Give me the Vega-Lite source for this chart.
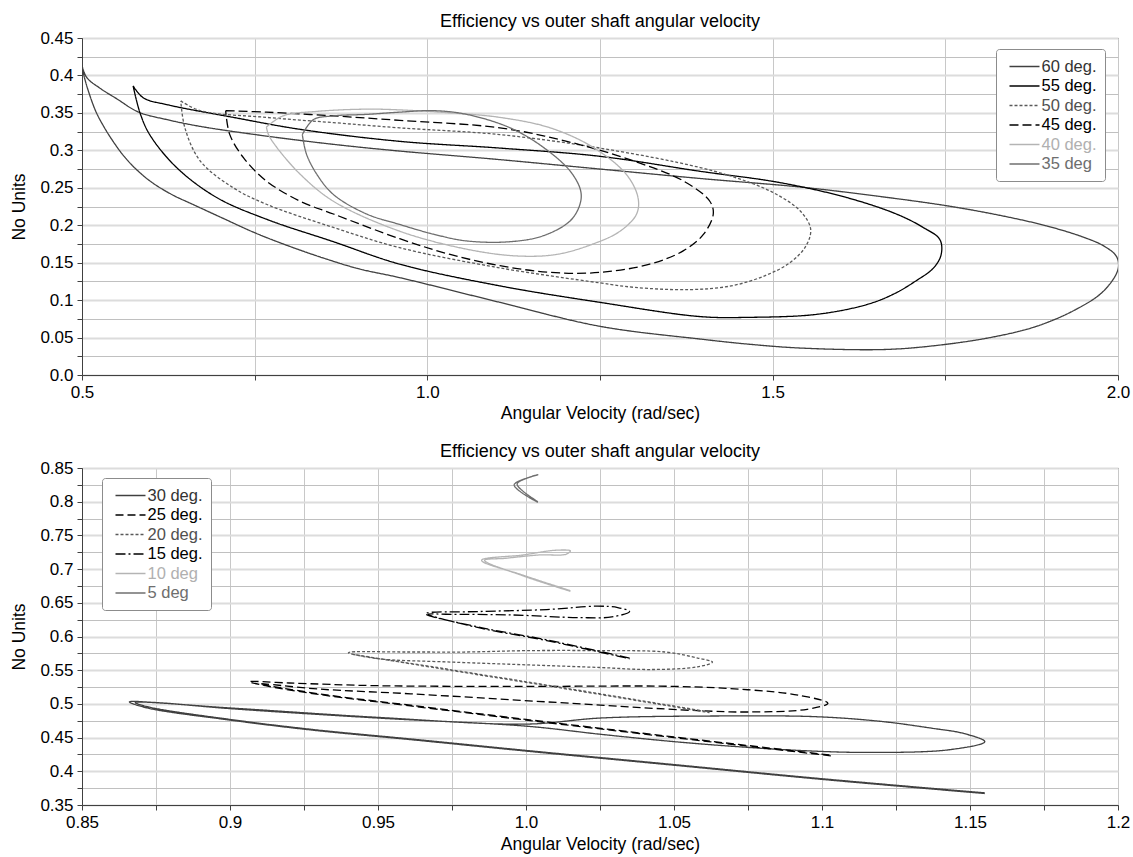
{
  "$schema": "https://vega.github.io/schema/vega-lite/v6.json",
  "background": "white",
  "padding": {"left": 10, "top": 12, "right": 15, "bottom": 4},
  "spacing": 20,
  "config": {
    "font": "Liberation Sans",
    "view": {"stroke": "#404040", "strokeWidth": 1},
    "axis": {"domainColor": "#404040", "tickColor": "#404040", "labelColor": "#000000", "titleColor": "#000000", "labelFontSize": 17, "titleFontSize": 17.5, "titleFontWeight": "normal", "tickSize": 5, "gridColor": "#c8c8c8", "labelFlush": false, "labelOverlap": false},
    "title": {"fontSize": 18, "fontWeight": "normal", "color": "#000000"}
  },
  "datasets": {
    "top": [
      {"s":"60 deg.","i":0,"x":0.5,"y":0.413},{"s":"60 deg.","i":1,"x":0.507,"y":0.397},{"s":"60 deg.","i":2,"x":0.526,"y":0.383},{"s":"60 deg.","i":3,"x":0.55,"y":0.369},{"s":"60 deg.","i":4,"x":0.582,"y":0.351},{"s":"60 deg.","i":5,"x":0.623,"y":0.341},{"s":"60 deg.","i":6,"x":0.671,"y":0.332},{"s":"60 deg.","i":7,"x":0.767,"y":0.319},{"s":"60 deg.","i":8,"x":0.864,"y":0.308},{"s":"60 deg.","i":9,"x":0.96,"y":0.299},{"s":"60 deg.","i":10,"x":1.1,"y":0.288},{"s":"60 deg.","i":11,"x":1.25,"y":0.275},{"s":"60 deg.","i":12,"x":1.4,"y":0.262},{"s":"60 deg.","i":13,"x":1.54,"y":0.251},{"s":"60 deg.","i":14,"x":1.65,"y":0.239},{"s":"60 deg.","i":15,"x":1.752,"y":0.226},{"s":"60 deg.","i":16,"x":1.83,"y":0.213},{"s":"60 deg.","i":17,"x":1.897,"y":0.199},{"s":"60 deg.","i":18,"x":1.95,"y":0.184},{"s":"60 deg.","i":19,"x":1.98,"y":0.172},{"s":"60 deg.","i":20,"x":1.998,"y":0.158},{"s":"60 deg.","i":21,"x":2.0,"y":0.141},{"s":"60 deg.","i":22,"x":1.979,"y":0.112},{"s":"60 deg.","i":23,"x":1.94,"y":0.088},{"s":"60 deg.","i":24,"x":1.882,"y":0.065},{"s":"60 deg.","i":25,"x":1.815,"y":0.05},{"s":"60 deg.","i":26,"x":1.733,"y":0.039},{"s":"60 deg.","i":27,"x":1.66,"y":0.034},{"s":"60 deg.","i":28,"x":1.54,"y":0.036},{"s":"60 deg.","i":29,"x":1.467,"y":0.041},{"s":"60 deg.","i":30,"x":1.395,"y":0.048},{"s":"60 deg.","i":31,"x":1.25,"y":0.065},{"s":"60 deg.","i":32,"x":1.105,"y":0.097},{"s":"60 deg.","i":33,"x":0.96,"y":0.13},{"s":"60 deg.","i":34,"x":0.9,"y":0.142},{"s":"60 deg.","i":35,"x":0.85,"y":0.156},{"s":"60 deg.","i":36,"x":0.8,"y":0.172},{"s":"60 deg.","i":37,"x":0.75,"y":0.19},{"s":"60 deg.","i":38,"x":0.7,"y":0.211},{"s":"60 deg.","i":39,"x":0.66,"y":0.228},{"s":"60 deg.","i":40,"x":0.63,"y":0.241},{"s":"60 deg.","i":41,"x":0.6,"y":0.258},{"s":"60 deg.","i":42,"x":0.577,"y":0.276},{"s":"60 deg.","i":43,"x":0.56,"y":0.293},{"s":"60 deg.","i":44,"x":0.545,"y":0.312},{"s":"60 deg.","i":45,"x":0.532,"y":0.331},{"s":"60 deg.","i":46,"x":0.52,"y":0.352},{"s":"60 deg.","i":47,"x":0.51,"y":0.377},{"s":"60 deg.","i":48,"x":0.503,"y":0.399},{"s":"60 deg.","i":49,"x":0.5,"y":0.413},
      {"s":"55 deg.","i":0,"x":0.574,"y":0.386},{"s":"55 deg.","i":1,"x":0.589,"y":0.37},{"s":"55 deg.","i":2,"x":0.623,"y":0.361},{"s":"55 deg.","i":3,"x":0.719,"y":0.344},{"s":"55 deg.","i":4,"x":0.816,"y":0.328},{"s":"55 deg.","i":5,"x":0.96,"y":0.312},{"s":"55 deg.","i":6,"x":1.105,"y":0.303},{"s":"55 deg.","i":7,"x":1.25,"y":0.292},{"s":"55 deg.","i":8,"x":1.395,"y":0.272},{"s":"55 deg.","i":9,"x":1.51,"y":0.257},{"s":"55 deg.","i":10,"x":1.607,"y":0.237},{"s":"55 deg.","i":11,"x":1.679,"y":0.215},{"s":"55 deg.","i":12,"x":1.718,"y":0.197},{"s":"55 deg.","i":13,"x":1.742,"y":0.181},{"s":"55 deg.","i":14,"x":1.744,"y":0.161},{"s":"55 deg.","i":15,"x":1.733,"y":0.143},{"s":"55 deg.","i":16,"x":1.708,"y":0.126},{"s":"55 deg.","i":17,"x":1.675,"y":0.108},{"s":"55 deg.","i":18,"x":1.636,"y":0.094},{"s":"55 deg.","i":19,"x":1.564,"y":0.081},{"s":"55 deg.","i":20,"x":1.467,"y":0.077},{"s":"55 deg.","i":21,"x":1.395,"y":0.078},{"s":"55 deg.","i":22,"x":1.25,"y":0.097},{"s":"55 deg.","i":23,"x":1.105,"y":0.119},{"s":"55 deg.","i":24,"x":0.96,"y":0.148},{"s":"55 deg.","i":25,"x":0.864,"y":0.178},{"s":"55 deg.","i":26,"x":0.767,"y":0.208},{"s":"55 deg.","i":27,"x":0.695,"y":0.237},{"s":"55 deg.","i":28,"x":0.637,"y":0.277},{"s":"55 deg.","i":29,"x":0.598,"y":0.321},{"s":"55 deg.","i":30,"x":0.584,"y":0.35},{"s":"55 deg.","i":31,"x":0.574,"y":0.386},
      {"s":"50 deg.","i":0,"x":0.643,"y":0.366},{"s":"50 deg.","i":1,"x":0.671,"y":0.353},{"s":"50 deg.","i":2,"x":0.767,"y":0.344},{"s":"50 deg.","i":3,"x":0.864,"y":0.337},{"s":"50 deg.","i":4,"x":0.96,"y":0.33},{"s":"50 deg.","i":5,"x":1.105,"y":0.321},{"s":"50 deg.","i":6,"x":1.25,"y":0.303},{"s":"50 deg.","i":7,"x":1.395,"y":0.277},{"s":"50 deg.","i":8,"x":1.467,"y":0.257},{"s":"50 deg.","i":9,"x":1.506,"y":0.241},{"s":"50 deg.","i":10,"x":1.54,"y":0.219},{"s":"50 deg.","i":11,"x":1.555,"y":0.195},{"s":"50 deg.","i":12,"x":1.548,"y":0.172},{"s":"50 deg.","i":13,"x":1.525,"y":0.15},{"s":"50 deg.","i":14,"x":1.49,"y":0.133},{"s":"50 deg.","i":15,"x":1.44,"y":0.119},{"s":"50 deg.","i":16,"x":1.38,"y":0.114},{"s":"50 deg.","i":17,"x":1.3,"y":0.117},{"s":"50 deg.","i":18,"x":1.25,"y":0.123},{"s":"50 deg.","i":19,"x":1.105,"y":0.143},{"s":"50 deg.","i":20,"x":0.96,"y":0.17},{"s":"50 deg.","i":21,"x":0.864,"y":0.197},{"s":"50 deg.","i":22,"x":0.767,"y":0.228},{"s":"50 deg.","i":23,"x":0.719,"y":0.25},{"s":"50 deg.","i":24,"x":0.671,"y":0.286},{"s":"50 deg.","i":25,"x":0.649,"y":0.33},{"s":"50 deg.","i":26,"x":0.643,"y":0.366},
      {"s":"45 deg.","i":0,"x":0.708,"y":0.353},{"s":"45 deg.","i":1,"x":0.767,"y":0.351},{"s":"45 deg.","i":2,"x":0.864,"y":0.346},{"s":"45 deg.","i":3,"x":0.96,"y":0.34},{"s":"45 deg.","i":4,"x":1.105,"y":0.33},{"s":"45 deg.","i":5,"x":1.202,"y":0.312},{"s":"45 deg.","i":6,"x":1.298,"y":0.286},{"s":"45 deg.","i":7,"x":1.371,"y":0.259},{"s":"45 deg.","i":8,"x":1.409,"y":0.232},{"s":"45 deg.","i":9,"x":1.414,"y":0.215},{"s":"45 deg.","i":10,"x":1.4,"y":0.188},{"s":"45 deg.","i":11,"x":1.371,"y":0.166},{"s":"45 deg.","i":12,"x":1.322,"y":0.148},{"s":"45 deg.","i":13,"x":1.25,"y":0.137},{"s":"45 deg.","i":14,"x":1.178,"y":0.137},{"s":"45 deg.","i":15,"x":1.105,"y":0.146},{"s":"45 deg.","i":16,"x":1.033,"y":0.161},{"s":"45 deg.","i":17,"x":0.96,"y":0.182},{"s":"45 deg.","i":18,"x":0.864,"y":0.215},{"s":"45 deg.","i":19,"x":0.816,"y":0.232},{"s":"45 deg.","i":20,"x":0.767,"y":0.259},{"s":"45 deg.","i":21,"x":0.734,"y":0.29},{"s":"45 deg.","i":22,"x":0.714,"y":0.321},{"s":"45 deg.","i":23,"x":0.708,"y":0.353},
      {"s":"40 deg.","i":0,"x":0.767,"y":0.331},{"s":"40 deg.","i":1,"x":0.791,"y":0.346},{"s":"40 deg.","i":2,"x":0.84,"y":0.352},{"s":"40 deg.","i":3,"x":0.912,"y":0.355},{"s":"40 deg.","i":4,"x":0.96,"y":0.354},{"s":"40 deg.","i":5,"x":1.033,"y":0.35},{"s":"40 deg.","i":6,"x":1.105,"y":0.344},{"s":"40 deg.","i":7,"x":1.178,"y":0.33},{"s":"40 deg.","i":8,"x":1.24,"y":0.304},{"s":"40 deg.","i":9,"x":1.288,"y":0.268},{"s":"40 deg.","i":10,"x":1.305,"y":0.237},{"s":"40 deg.","i":11,"x":1.303,"y":0.215},{"s":"40 deg.","i":12,"x":1.279,"y":0.192},{"s":"40 deg.","i":13,"x":1.24,"y":0.175},{"s":"40 deg.","i":14,"x":1.187,"y":0.161},{"s":"40 deg.","i":15,"x":1.129,"y":0.159},{"s":"40 deg.","i":16,"x":1.057,"y":0.168},{"s":"40 deg.","i":17,"x":0.96,"y":0.192},{"s":"40 deg.","i":18,"x":0.864,"y":0.232},{"s":"40 deg.","i":19,"x":0.816,"y":0.268},{"s":"40 deg.","i":20,"x":0.782,"y":0.304},{"s":"40 deg.","i":21,"x":0.77,"y":0.321},{"s":"40 deg.","i":22,"x":0.767,"y":0.331},
      {"s":"35 deg","i":0,"x":0.819,"y":0.321},{"s":"35 deg","i":1,"x":0.835,"y":0.341},{"s":"35 deg","i":2,"x":0.864,"y":0.346},{"s":"35 deg","i":3,"x":0.912,"y":0.348},{"s":"35 deg","i":4,"x":0.96,"y":0.351},{"s":"35 deg","i":5,"x":1.009,"y":0.353},{"s":"35 deg","i":6,"x":1.057,"y":0.348},{"s":"35 deg","i":7,"x":1.12,"y":0.33},{"s":"35 deg","i":8,"x":1.168,"y":0.304},{"s":"35 deg","i":9,"x":1.207,"y":0.272},{"s":"35 deg","i":10,"x":1.222,"y":0.246},{"s":"35 deg","i":11,"x":1.221,"y":0.228},{"s":"35 deg","i":12,"x":1.207,"y":0.206},{"s":"35 deg","i":13,"x":1.168,"y":0.186},{"s":"35 deg","i":14,"x":1.12,"y":0.178},{"s":"35 deg","i":15,"x":1.057,"y":0.179},{"s":"35 deg","i":16,"x":1.009,"y":0.188},{"s":"35 deg","i":17,"x":0.96,"y":0.201},{"s":"35 deg","i":18,"x":0.912,"y":0.215},{"s":"35 deg","i":19,"x":0.864,"y":0.241},{"s":"35 deg","i":20,"x":0.84,"y":0.268},{"s":"35 deg","i":21,"x":0.825,"y":0.295},{"s":"35 deg","i":22,"x":0.819,"y":0.321}
    ],
    "bottom": [
      {"s":"30 deg.","i":0,"x":1.155,"y":0.367},{"s":"30 deg.","i":1,"x":1.1,"y":0.388},{"s":"30 deg.","i":2,"x":1.05,"y":0.409},{"s":"30 deg.","i":3,"x":1.0,"y":0.43},{"s":"30 deg.","i":4,"x":0.961,"y":0.447},{"s":"30 deg.","i":5,"x":0.928,"y":0.461},{"s":"30 deg.","i":6,"x":0.9,"y":0.476},{"s":"30 deg.","i":7,"x":0.872,"y":0.494},{"s":"30 deg.","i":8,"x":0.866,"y":0.503},{"s":"30 deg.","i":9,"x":0.875,"y":0.502},{"s":"30 deg.","i":10,"x":0.9,"y":0.493},{"s":"30 deg.","i":11,"x":0.95,"y":0.479},{"s":"30 deg.","i":12,"x":1.0,"y":0.467},{"s":"30 deg.","i":13,"x":1.025,"y":0.455},{"s":"30 deg.","i":14,"x":1.05,"y":0.444},{"s":"30 deg.","i":15,"x":1.07,"y":0.437},{"s":"30 deg.","i":16,"x":1.092,"y":0.431},{"s":"30 deg.","i":17,"x":1.115,"y":0.428},{"s":"30 deg.","i":18,"x":1.143,"y":0.432},{"s":"30 deg.","i":19,"x":1.155,"y":0.444},{"s":"30 deg.","i":20,"x":1.148,"y":0.456},{"s":"30 deg.","i":21,"x":1.137,"y":0.464},{"s":"30 deg.","i":22,"x":1.12,"y":0.474},{"s":"30 deg.","i":23,"x":1.098,"y":0.481},{"s":"30 deg.","i":24,"x":1.062,"y":0.482},{"s":"30 deg.","i":25,"x":1.025,"y":0.479},{"s":"30 deg.","i":26,"x":1.0,"y":0.47},{"s":"30 deg.","i":27,"x":0.95,"y":0.48},{"s":"30 deg.","i":28,"x":0.9,"y":0.494},{"s":"30 deg.","i":29,"x":0.868,"y":0.502},{"s":"30 deg.","i":30,"x":0.873,"y":0.495},{"s":"30 deg.","i":31,"x":0.9,"y":0.477},{"s":"30 deg.","i":32,"x":0.928,"y":0.462},{"s":"30 deg.","i":33,"x":0.961,"y":0.448},{"s":"30 deg.","i":34,"x":1.0,"y":0.431},{"s":"30 deg.","i":35,"x":1.05,"y":0.41},{"s":"30 deg.","i":36,"x":1.1,"y":0.389},{"s":"30 deg.","i":37,"x":1.155,"y":0.368},
      {"s":"25 deg.","i":0,"x":1.103,"y":0.423},{"s":"25 deg.","i":1,"x":1.05,"y":0.45},{"s":"25 deg.","i":2,"x":1.0,"y":0.476},{"s":"25 deg.","i":3,"x":0.961,"y":0.497},{"s":"25 deg.","i":4,"x":0.93,"y":0.514},{"s":"25 deg.","i":5,"x":0.912,"y":0.527},{"s":"25 deg.","i":6,"x":0.9065,"y":0.533},{"s":"25 deg.","i":7,"x":0.92,"y":0.531},{"s":"25 deg.","i":8,"x":0.95,"y":0.527},{"s":"25 deg.","i":9,"x":1.0,"y":0.526},{"s":"25 deg.","i":10,"x":1.05,"y":0.526},{"s":"25 deg.","i":11,"x":1.075,"y":0.521},{"s":"25 deg.","i":12,"x":1.092,"y":0.513},{"s":"25 deg.","i":13,"x":1.102,"y":0.501},{"s":"25 deg.","i":14,"x":1.095,"y":0.492},{"s":"25 deg.","i":15,"x":1.075,"y":0.488},{"s":"25 deg.","i":16,"x":1.058,"y":0.49},{"s":"25 deg.","i":17,"x":1.007,"y":0.503},{"s":"25 deg.","i":18,"x":0.961,"y":0.515},{"s":"25 deg.","i":19,"x":0.93,"y":0.522},{"s":"25 deg.","i":20,"x":0.91,"y":0.53},{"s":"25 deg.","i":21,"x":0.93,"y":0.515},{"s":"25 deg.","i":22,"x":0.961,"y":0.498},{"s":"25 deg.","i":23,"x":1.0,"y":0.477},{"s":"25 deg.","i":24,"x":1.05,"y":0.451},{"s":"25 deg.","i":25,"x":1.103,"y":0.424},
      {"s":"20 deg.","i":0,"x":1.062,"y":0.488},{"s":"20 deg.","i":1,"x":1.007,"y":0.528},{"s":"20 deg.","i":2,"x":0.97,"y":0.554},{"s":"20 deg.","i":3,"x":0.94,"y":0.576},{"s":"20 deg.","i":4,"x":0.96,"y":0.577},{"s":"20 deg.","i":5,"x":0.98,"y":0.577},{"s":"20 deg.","i":6,"x":1.0,"y":0.579},{"s":"20 deg.","i":7,"x":1.025,"y":0.579},{"s":"20 deg.","i":8,"x":1.047,"y":0.577},{"s":"20 deg.","i":9,"x":1.058,"y":0.568},{"s":"20 deg.","i":10,"x":1.063,"y":0.562},{"s":"20 deg.","i":11,"x":1.058,"y":0.555},{"s":"20 deg.","i":12,"x":1.042,"y":0.551},{"s":"20 deg.","i":13,"x":1.025,"y":0.554},{"s":"20 deg.","i":14,"x":1.0,"y":0.558},{"s":"20 deg.","i":15,"x":0.975,"y":0.562},{"s":"20 deg.","i":16,"x":0.95,"y":0.567},{"s":"20 deg.","i":17,"x":0.941,"y":0.574},{"s":"20 deg.","i":18,"x":0.97,"y":0.553},{"s":"20 deg.","i":19,"x":1.007,"y":0.527},{"s":"20 deg.","i":20,"x":1.062,"y":0.487},
      {"s":"15 deg.","i":0,"x":1.035,"y":0.568},{"s":"15 deg.","i":1,"x":1.007,"y":0.595},{"s":"15 deg.","i":2,"x":0.984,"y":0.614},{"s":"15 deg.","i":3,"x":0.966,"y":0.634},{"s":"15 deg.","i":4,"x":0.984,"y":0.637},{"s":"15 deg.","i":5,"x":1.007,"y":0.64},{"s":"15 deg.","i":6,"x":1.024,"y":0.645},{"s":"15 deg.","i":7,"x":1.031,"y":0.643},{"s":"15 deg.","i":8,"x":1.035,"y":0.637},{"s":"15 deg.","i":9,"x":1.029,"y":0.629},{"s":"15 deg.","i":10,"x":1.018,"y":0.628},{"s":"15 deg.","i":11,"x":0.995,"y":0.632},{"s":"15 deg.","i":12,"x":0.973,"y":0.633},{"s":"15 deg.","i":13,"x":0.967,"y":0.633},{"s":"15 deg.","i":14,"x":0.984,"y":0.613},{"s":"15 deg.","i":15,"x":1.007,"y":0.594},{"s":"15 deg.","i":16,"x":1.035,"y":0.567},
      {"s":"10 deg","i":0,"x":1.015,"y":0.668},{"s":"10 deg","i":1,"x":0.999,"y":0.691},{"s":"10 deg","i":2,"x":0.985,"y":0.713},{"s":"10 deg","i":3,"x":0.999,"y":0.721},{"s":"10 deg","i":4,"x":1.01,"y":0.728},{"s":"10 deg","i":5,"x":1.015,"y":0.727},{"s":"10 deg","i":6,"x":1.0135,"y":0.722},{"s":"10 deg","i":7,"x":1.0045,"y":0.721},{"s":"10 deg","i":8,"x":0.993,"y":0.716},{"s":"10 deg","i":9,"x":0.986,"y":0.713},{"s":"10 deg","i":10,"x":0.999,"y":0.69},{"s":"10 deg","i":11,"x":1.015,"y":0.667},
      {"s":"5 deg","i":0,"x":1.004,"y":0.799},{"s":"5 deg","i":1,"x":0.996,"y":0.825},{"s":"5 deg","i":2,"x":1.004,"y":0.84},{"s":"5 deg","i":3,"x":1.001,"y":0.836},{"s":"5 deg","i":4,"x":0.997,"y":0.826},{"s":"5 deg","i":5,"x":1.004,"y":0.8}
    ]
  },
  "vconcat": [
    {
      "width": 1036,
      "height": 337,
      "title": {"text": "Efficiency vs outer shaft angular velocity", "offset": -2},
      "data": {"name": "top"},
      "mark": {"type": "line", "strokeWidth": 1.3, "interpolate": "catmull-rom", "clip": true},
      "encoding": {
        "x": {"field": "x", "type": "quantitative", "scale": {"domain": [0.5, 2.0], "nice": false, "zero": false},
          "axis": {"title": "Angular Velocity (rad/sec)", "values": [0.5, 0.75, 1, 1.25, 1.5, 1.75, 2], "labelExpr": "abs(datum.value*2-round(datum.value*2))<0.001 ? format(datum.value,'.1f') : ''", "labelPadding": 4, "titlePadding": 4}},
        "y": {"field": "y", "type": "quantitative", "scale": {"domain": [0, 0.45], "nice": false, "zero": false},
          "axis": {"title": "No Units", "values": [0,0.025,0.05,0.075,0.1,0.125,0.15,0.175,0.2,0.225,0.25,0.275,0.3,0.325,0.35,0.375,0.4,0.425,0.45],
            "labelExpr": "abs(datum.value*20-round(datum.value*20))<0.001 ? (datum.value==0 ? '0.0' : format(datum.value,'.2~f')) : ''",
            "gridColor": {"condition": {"test": "abs(datum.value*20-round(datum.value*20))<0.001", "value": "#dcdcdc"}, "value": "#c0c0c0"},
            "gridWidth": {"condition": {"test": "abs(datum.value*20-round(datum.value*20))<0.001", "value": 2}, "value": 1},
            "labelPadding": 4, "titlePadding": 11}},
        "order": {"field": "i", "type": "quantitative"},
        "color": {"field": "s", "type": "nominal",
          "scale": {"domain": ["60 deg.", "55 deg.", "50 deg.", "45 deg.", "40 deg.", "35 deg"], "range": ["#404040", "#000000", "#5a5a5a", "#000000", "#b4b4b4", "#6e6e6e"]},
          "legend": {"title": null, "orient": "none", "legendX": 914, "legendY": 11, "symbolType": "M-1.765,0H1.765", "symbolSize": 289, "symbolStrokeWidth": 1.5, "symbolOffset": 11, "labelFontSize": 16.5, "padding": 8, "rowPadding": 1.5, "fillColor": "white", "strokeColor": "#8c8c8c", "cornerRadius": 3, "labelOffset": 7.5,
            "encode": {"labels": {"update": {"fill": {"signal": "indexof(['55 deg.','45 deg.'], datum.value) >= 0 ? '#000000' : datum.value == '40 deg.' ? '#b0b0b0' : datum.value == '50 deg.' ? '#505050' : datum.value == '35 deg' ? '#6e6e6e' : '#333333'"}}},
              "symbols": {"update": {"fill": {"value": "transparent"}, "strokeDash": {"signal": "indexof(['55 deg.','35 deg'], datum.value) >= 0 ? [6,3] : datum.value == '50 deg.' ? [3,2] : datum.value == '45 deg.' ? [10,3,2,3,2,3] : [1,0]"}}}}}},
        "strokeDash": {"field": "s", "type": "nominal",
          "scale": {"domain": ["60 deg.", "55 deg.", "50 deg.", "45 deg.", "40 deg.", "35 deg"], "range": [[1,0],[1,0],[3,2],[9,4],[1,0],[1,0]]},
          "legend": {"title": null, "orient": "none", "legendX": 914, "legendY": 11, "symbolType": "M-1.765,0H1.765", "symbolSize": 289, "symbolStrokeWidth": 1.5, "symbolOffset": 11, "labelFontSize": 16.5, "padding": 8, "rowPadding": 1.5, "fillColor": "white", "strokeColor": "#8c8c8c", "cornerRadius": 3, "labelOffset": 7.5,
            "encode": {"labels": {"update": {"fill": {"signal": "indexof(['55 deg.','45 deg.'], datum.value) >= 0 ? '#000000' : datum.value == '40 deg.' ? '#b0b0b0' : datum.value == '50 deg.' ? '#505050' : datum.value == '35 deg' ? '#6e6e6e' : '#333333'"}}},
              "symbols": {"update": {"fill": {"value": "transparent"}, "strokeDash": {"signal": "indexof(['55 deg.','35 deg'], datum.value) >= 0 ? [6,3] : datum.value == '50 deg.' ? [3,2] : datum.value == '45 deg.' ? [10,3,2,3,2,3] : [1,0]"}}}}}}
      }
    },
    {
      "width": 1036,
      "height": 337,
      "title": {"text": "Efficiency vs outer shaft angular velocity", "offset": -2},
      "data": {"name": "bottom"},
      "mark": {"type": "line", "strokeWidth": 1.3, "interpolate": "catmull-rom", "clip": true},
      "encoding": {
        "x": {"field": "x", "type": "quantitative", "scale": {"domain": [0.85, 1.2], "nice": false, "zero": false},
          "axis": {"title": "Angular Velocity (rad/sec)", "values": [0.85,0.875,0.9,0.925,0.95,0.975,1,1.025,1.05,1.075,1.1,1.125,1.15,1.175,1.2], "labelExpr": "abs(datum.value*20-round(datum.value*20))<0.001 ? (abs(datum.value-1)<0.001 ? '1.0' : format(datum.value,'.2~f')) : ''", "labelPadding": 4, "titlePadding": 5}},
        "y": {"field": "y", "type": "quantitative", "scale": {"domain": [0.35, 0.85], "nice": false, "zero": false},
          "axis": {"title": "No Units", "values": [0.35,0.375,0.4,0.425,0.45,0.475,0.5,0.525,0.55,0.575,0.6,0.625,0.65,0.675,0.7,0.725,0.75,0.775,0.8,0.825,0.85],
            "labelExpr": "abs(datum.value*20-round(datum.value*20))<0.001 ? format(datum.value,'.2~f') : ''",
            "gridColor": {"condition": {"test": "abs(datum.value*20-round(datum.value*20))<0.001", "value": "#dcdcdc"}, "value": "#c0c0c0"},
            "gridWidth": {"condition": {"test": "abs(datum.value*20-round(datum.value*20))<0.001", "value": 2}, "value": 1},
            "labelPadding": 4, "titlePadding": 11}},
        "order": {"field": "i", "type": "quantitative"},
        "color": {"field": "s", "type": "nominal",
          "scale": {"domain": ["30 deg.", "25 deg.", "20 deg.", "15 deg.", "10 deg", "5 deg"], "range": ["#404040", "#000000", "#5a5a5a", "#000000", "#b4b4b4", "#6e6e6e"]},
          "legend": {"title": null, "orient": "none", "legendX": 20, "legendY": 10, "symbolType": "M-1.765,0H1.765", "symbolSize": 289, "symbolStrokeWidth": 1.5, "symbolOffset": 11, "labelFontSize": 16.5, "padding": 8, "rowPadding": 1.5, "fillColor": "white", "strokeColor": "#8c8c8c", "cornerRadius": 3, "labelOffset": 7.5,
            "encode": {"labels": {"update": {"fill": {"signal": "indexof(['25 deg.','15 deg.'], datum.value) >= 0 ? '#000000' : datum.value == '10 deg' ? '#b0b0b0' : datum.value == '20 deg.' ? '#505050' : datum.value == '5 deg' ? '#6e6e6e' : '#333333'"}}},
              "symbols": {"update": {"fill": {"value": "transparent"}, "strokeDash": {"signal": "datum.value == '25 deg.' ? [6,3] : datum.value == '20 deg.' ? [3,2] : datum.value == '15 deg.' ? [10,3,2,3,2,3] : [1,0]"}}}}}},
        "strokeDash": {"field": "s", "type": "nominal",
          "scale": {"domain": ["30 deg.", "25 deg.", "20 deg.", "15 deg.", "10 deg", "5 deg"], "range": [[1,0],[8,4],[3,2],[10,3,2,3],[1,0],[1,0]]},
          "legend": {"title": null, "orient": "none", "legendX": 20, "legendY": 10, "symbolType": "M-1.765,0H1.765", "symbolSize": 289, "symbolStrokeWidth": 1.5, "symbolOffset": 11, "labelFontSize": 16.5, "padding": 8, "rowPadding": 1.5, "fillColor": "white", "strokeColor": "#8c8c8c", "cornerRadius": 3, "labelOffset": 7.5,
            "encode": {"labels": {"update": {"fill": {"signal": "indexof(['25 deg.','15 deg.'], datum.value) >= 0 ? '#000000' : datum.value == '10 deg' ? '#b0b0b0' : datum.value == '20 deg.' ? '#505050' : datum.value == '5 deg' ? '#6e6e6e' : '#333333'"}}},
              "symbols": {"update": {"fill": {"value": "transparent"}, "strokeDash": {"signal": "datum.value == '25 deg.' ? [6,3] : datum.value == '20 deg.' ? [3,2] : datum.value == '15 deg.' ? [10,3,2,3,2,3] : [1,0]"}}}}}}
      }
    }
  ],
  "resolve": {"scale": {"color": "independent", "strokeDash": "independent"}, "legend": {"color": "independent", "strokeDash": "independent"}}
}
